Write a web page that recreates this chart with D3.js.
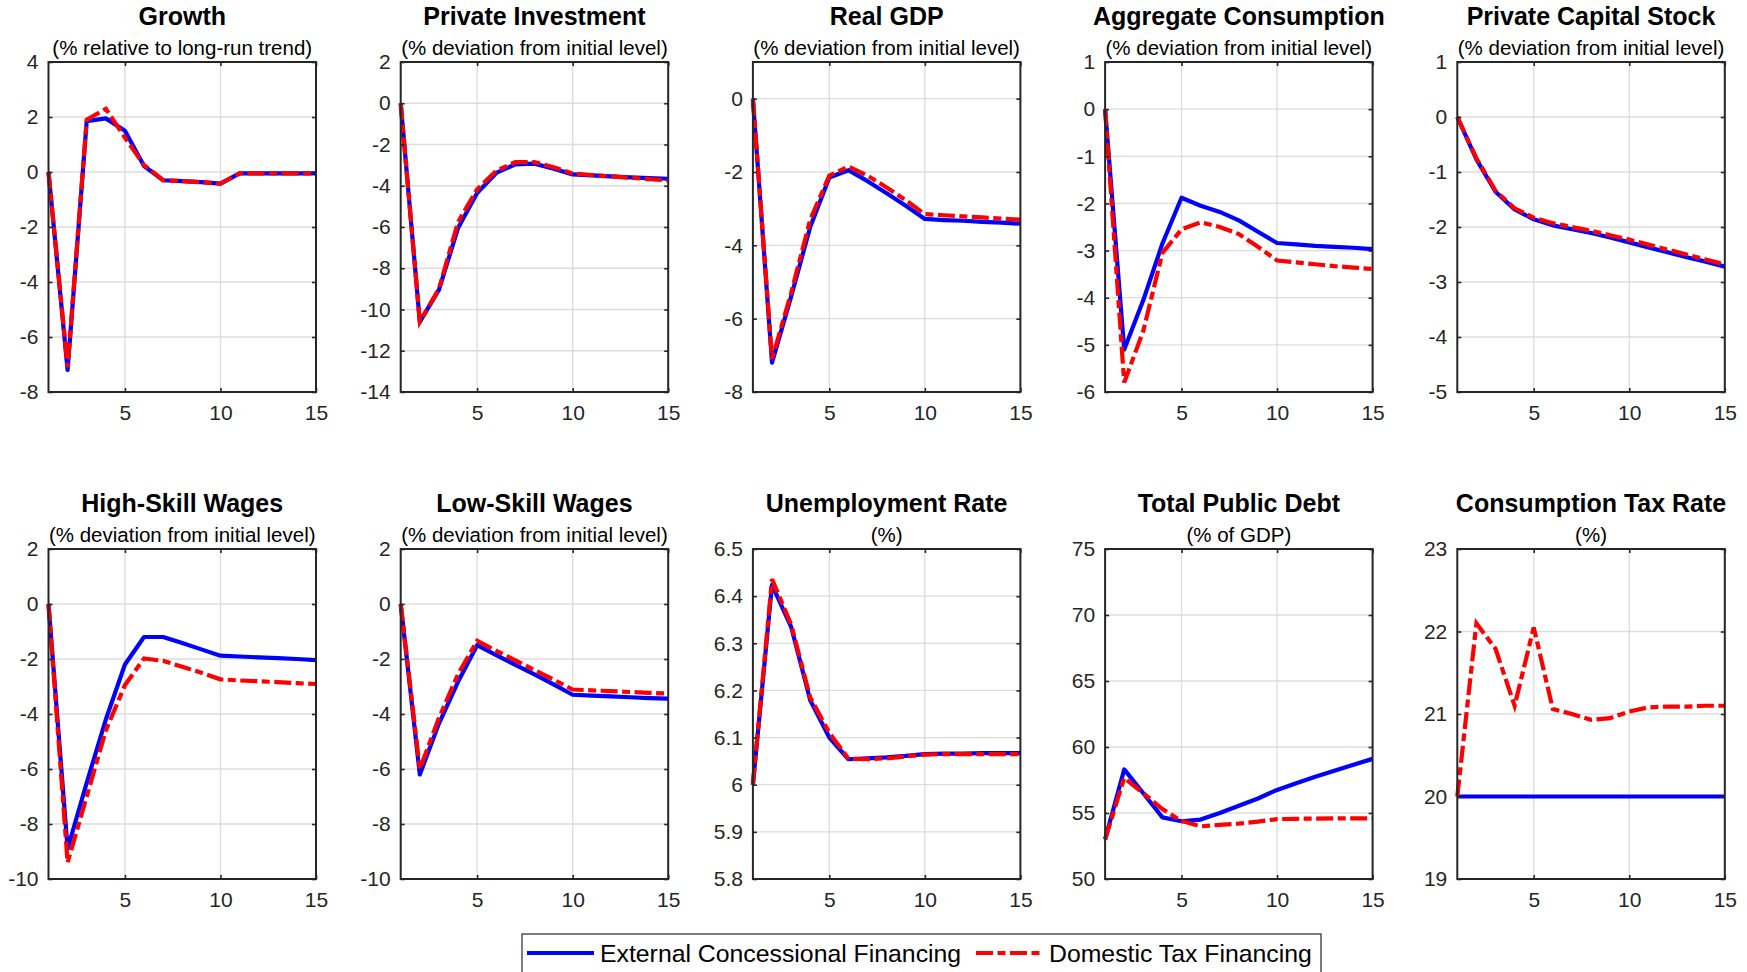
<!DOCTYPE html>
<meta charset="utf-8">
<script src="https://d3js.org/d3.v7.min.js"></script>
<style>
  body { margin: 0; background: #fff; }
  text { font-family: "Liberation Sans", Arial, Helvetica, sans-serif; }
  .title { font-size: 25px; font-weight: bold; fill: #000; }
  .subtitle { font-size: 20.5px; fill: #000; }
  .tick text { font-size: 21px; fill: #262626; }
  .legend text { font-size: 24.8px; fill: #000; }
</style>
<svg id="chart" width="1747" height="972"></svg>
<script>
// periods on the x axis
var periods = [1, 2, 3, 4, 5, 6, 7, 8, 9, 10, 11, 12, 13, 14, 15];
var xTicks = [5, 10, 15];

var titles = ["Growth", "Private Investment", "Real GDP", "Aggregate Consumption", "Private Capital Stock",
              "High-Skill Wages", "Low-Skill Wages", "Unemployment Rate", "Total Public Debt", "Consumption Tax Rate"];
var subtitles = ["(% relative to long-run trend)", "(% deviation from initial level)", "(% deviation from initial level)",
                 "(% deviation from initial level)", "(% deviation from initial level)", "(% deviation from initial level)",
                 "(% deviation from initial level)", "(%)", "(% of GDP)", "(%)"];

var yDomains = [[-8, 4], [-14, 2], [-8, 1], [-6, 1], [-5, 1], [-10, 2], [-10, 2], [5.8, 6.5], [50, 75], [19, 23]];
var yTicks = [
  [-8, -6, -4, -2, 0, 2, 4],
  [-14, -12, -10, -8, -6, -4, -2, 0, 2],
  [-8, -6, -4, -2, 0],
  [-6, -5, -4, -3, -2, -1, 0, 1],
  [-5, -4, -3, -2, -1, 0, 1],
  [-10, -8, -6, -4, -2, 0, 2],
  [-10, -8, -6, -4, -2, 0, 2],
  [5.8, 5.9, 6.0, 6.1, 6.2, 6.3, 6.4, 6.5],
  [50, 55, 60, 65, 70, 75],
  [19, 20, 21, 22, 23]
];

// External Concessional Financing (blue)
var growthExt = [0, -7.2, 1.85, 1.95, 1.5, 0.22, -0.3, -0.33, -0.37, -0.42, -0.05, -0.05, -0.05, -0.05, -0.05];
var investExt = [0, -10.6, -9.05, -6.05, -4.35, -3.38, -2.96, -2.93, -3.17, -3.45, -3.5, -3.55, -3.59, -3.63, -3.66];
var gdpExt = [0, -7.2, -5.4, -3.5, -2.15, -1.95, -2.25, -2.58, -2.92, -3.28, -3.31, -3.33, -3.36, -3.38, -3.41];
var consExt = [0, -5.1, -4.05, -2.85, -1.88, -2.05, -2.18, -2.36, -2.6, -2.84, -2.87, -2.9, -2.92, -2.94, -2.97];
var capitalExt = [0, -0.77, -1.36, -1.68, -1.86, -1.97, -2.04, -2.11, -2.19, -2.28, -2.37, -2.46, -2.55, -2.63, -2.72];
var highWageExt = [0, -8.9, -6.5, -4.2, -2.2, -1.2, -1.2, -1.42, -1.65, -1.88, -1.91, -1.94, -1.97, -2.0, -2.04];
var lowWageExt = [0, -6.2, -4.35, -2.83, -1.5, -1.86, -2.21, -2.56, -2.92, -3.3, -3.33, -3.36, -3.39, -3.42, -3.44];
var unempExt = [6.0, 6.424, 6.335, 6.179, 6.1, 6.054, 6.056, 6.058, 6.061, 6.065, 6.066, 6.066, 6.067, 6.067, 6.067];
var debtExt = [53.0, 58.3, 56.5, 54.67, 54.37, 54.5, 55.0, 55.55, 56.1, 56.75, 57.25, 57.75, 58.2, 58.65, 59.1];
var taxExt = [20, 20, 20, 20, 20, 20, 20, 20, 20, 20, 20, 20, 20, 20, 20];

// Domestic Tax Financing (red)
var growthDom = [0, -7.1, 1.9, 2.3, 1.25, 0.25, -0.3, -0.33, -0.37, -0.42, -0.05, -0.05, -0.05, -0.05, -0.05];
var investDom = [0, -10.6, -9.0, -5.76, -4.17, -3.28, -2.85, -2.85, -3.1, -3.41, -3.48, -3.55, -3.61, -3.68, -3.74];
var gdpDom = [0, -7.1, -5.3, -3.3, -2.1, -1.85, -2.1, -2.42, -2.77, -3.15, -3.18, -3.21, -3.24, -3.27, -3.3];
var consDom = [0, -5.8, -4.7, -3.05, -2.55, -2.4, -2.5, -2.65, -2.92, -3.21, -3.25, -3.29, -3.33, -3.36, -3.39];
var capitalDom = [0, -0.75, -1.34, -1.66, -1.83, -1.93, -2.0, -2.07, -2.15, -2.23, -2.32, -2.41, -2.5, -2.59, -2.68];
var highWageDom = [0, -9.4, -7.0, -4.6, -2.95, -1.98, -2.07, -2.28, -2.5, -2.74, -2.78, -2.81, -2.84, -2.88, -2.91];
var lowWageDom = [0, -6.0, -4.15, -2.55, -1.34, -1.7, -2.05, -2.4, -2.75, -3.11, -3.14, -3.17, -3.2, -3.23, -3.26];
var unempDom = [6.0, 6.436, 6.34, 6.185, 6.11, 6.055, 6.054, 6.056, 6.06, 6.064, 6.065, 6.065, 6.065, 6.065, 6.065];
var debtDom = [53.0, 57.66, 56.5, 55.3, 54.4, 53.99, 54.1, 54.2, 54.35, 54.54, 54.56, 54.58, 54.59, 54.6, 54.6];
var taxDom = [20.0, 22.1, 21.79, 21.1, 22.05, 21.06, 21.0, 20.93, 20.95, 21.03, 21.08, 21.09, 21.09, 21.1, 21.1];

var extSeries = [growthExt, investExt, gdpExt, consExt, capitalExt, highWageExt, lowWageExt, unempExt, debtExt, taxExt];
var domSeries = [growthDom, investDom, gdpDom, consDom, capitalDom, highWageDom, lowWageDom, unempDom, debtDom, taxDom];

var legendKeys = ["External Concessional Financing", "Domestic Tax Financing"];

// layout
var svg = d3.select("#chart");
var plotW = 267.5, plotH = 330;
var firstLeft = 48.5, colStep = 352.2;
var rowTops = [62, 549];
var blue = "#0000ff", red = "#ff0000";
var dash = "17,4.5,8,4.5";   // matlab '-.' at thick width

function fmt(d) { return String(Math.round(d * 10) / 10).replace("\u2212", "-"); }

titles.forEach(function(t, i) {
  var row = Math.floor(i / 5), col = i % 5;
  var g = svg.append("g")
      .attr("transform", "translate(" + (firstLeft + col * colStep) + "," + rowTops[row] + ")");

  var x = d3.scaleLinear().domain([1, 15]).range([0, plotW]);
  var y = d3.scaleLinear().domain(yDomains[i]).range([plotH, 0]);

  // grid
  g.append("g").selectAll("line").data(xTicks).enter().append("line")
      .attr("x1", d => x(d)).attr("x2", d => x(d)).attr("y1", 0).attr("y2", plotH)
      .attr("stroke", "#dcdcdc").attr("stroke-width", 1.3);
  g.append("g").selectAll("line").data(yTicks[i]).enter().append("line")
      .attr("x1", 0).attr("x2", plotW).attr("y1", d => y(d)).attr("y2", d => y(d))
      .attr("stroke", "#dcdcdc").attr("stroke-width", 1.3);

  // lines
  var line = d3.line().x((d, k) => x(periods[k])).y(d => y(d));
  g.append("path").datum(extSeries[i]).attr("d", line)
      .attr("fill", "none").attr("stroke", blue).attr("stroke-width", 4.2)
      .attr("stroke-linejoin", "round");
  g.append("path").datum(domSeries[i]).attr("d", line)
      .attr("fill", "none").attr("stroke", red).attr("stroke-width", 4.2)
      .attr("stroke-dasharray", dash);

  // axes
  g.append("g").attr("class", "yaxis")
      .call(d3.axisLeft(y).tickValues(yTicks[i]).tickFormat(fmt).tickSizeInner(-4).tickSizeOuter(0).tickPadding(10));
  g.append("g").attr("transform", "translate(" + plotW + ",0)")
      .call(d3.axisRight(y).tickValues(yTicks[i]).tickFormat("").tickSizeInner(-4).tickSizeOuter(0));
  g.append("g").attr("class", "xaxis").attr("transform", "translate(0," + plotH + ")")
      .call(d3.axisBottom(x).tickValues(xTicks).tickFormat(fmt).tickSizeInner(-4).tickSizeOuter(0).tickPadding(13));
  g.append("g")
      .call(d3.axisTop(x).tickValues(xTicks).tickFormat("").tickSizeInner(-4).tickSizeOuter(0));
  g.selectAll(".domain").remove();
  g.selectAll(".tick line").attr("stroke", "#262626").attr("stroke-width", 1.6);
  g.selectAll(".tick text").attr("font-family", null).attr("font-size", null);

  // frame
  g.append("rect").attr("width", plotW).attr("height", plotH)
      .attr("fill", "none").attr("stroke", "#262626").attr("stroke-width", 2);

  g.append("text").attr("class", "title")
      .attr("x", plotW / 2).attr("y", -37).attr("text-anchor", "middle").text(t);
  g.append("text").attr("class", "subtitle")
      .attr("x", plotW / 2).attr("y", -7.5).attr("text-anchor", "middle").text(subtitles[i]);
});

// legend
var leg = svg.append("g").attr("class", "legend");
leg.append("rect").attr("x", 522).attr("y", 934).attr("width", 799).attr("height", 60)
    .attr("fill", "#fff").attr("stroke", "#262626").attr("stroke-width", 1.2);
var legX = [527, 976];
leg.selectAll("line").data(legendKeys).enter().append("line")
    .attr("x1", (d, i) => legX[i]).attr("x2", (d, i) => legX[i] + 67)
    .attr("y1", 953).attr("y2", 953)
    .attr("stroke", (d, i) => i === 0 ? blue : red).attr("stroke-width", 4.2)
    .attr("stroke-dasharray", (d, i) => i === 0 ? null : dash);
leg.selectAll("text").data(legendKeys).enter().append("text")
    .attr("x", (d, i) => legX[i] + 73).attr("y", 962).text(d => d);
</script>
